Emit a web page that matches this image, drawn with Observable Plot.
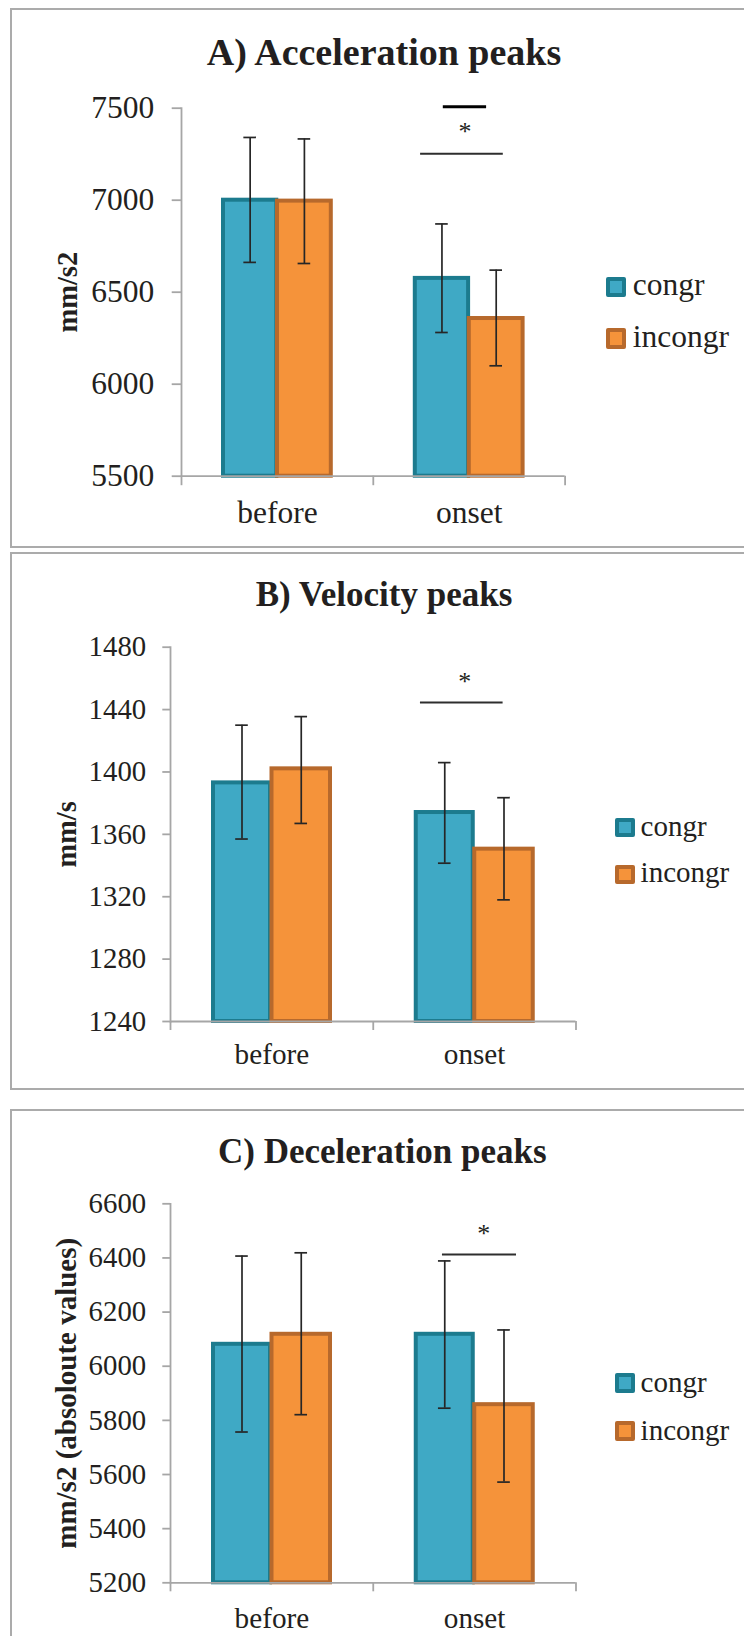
<!DOCTYPE html>
<html>
<head>
<meta charset="utf-8">
<script src="https://cdn.jsdelivr.net/npm/d3@7"></script>
<script src="https://cdn.jsdelivr.net/npm/@observablehq/plot@0.6"></script>
<style>
html, body { margin: 0; padding: 0; background: #fff; }
body { width: 744px; height: 1636px; position: relative; overflow: hidden;
  font-family: "Liberation Serif", "Times New Roman", serif; color: #231f20; }
.panel { position: absolute; left: 10px; width: 800px; border: 2px solid #ababab; box-sizing: border-box; }
.title { position: absolute; text-align: center; font-weight: bold; line-height: 1; white-space: nowrap; }
.leg { position: absolute; line-height: 1; white-space: nowrap; }
.sw { position: absolute; box-sizing: border-box; border-style: solid; border-radius: 2px; }
</style>
</head>
<body>
<script>
// ---------- data ----------
const categories = ["before", "onset"];
const conditions = ["congr", "incongr"];
const titles = ["A) Acceleration peaks", "B) Velocity peaks", "C) Deceleration peaks"];
const yLabels = ["mm/s2", "mm/s", "mm/s2 (absoloute values)"];

// A) Acceleration peaks
const accelTicks = [5500, 6000, 6500, 7000, 7500];
const accelCongr = [7000, 6575];
const accelCongrLow = [6662, 6281];
const accelCongrHigh = [7341, 6871];
const accelIncongr = [6995, 6357];
const accelIncongrLow = [6656, 6100];
const accelIncongrHigh = [7333, 6620];
const accelSigLine = [7252];
const accelStar = [7397];
const accelTopBar = [7508];

// B) Velocity peaks
const velTicks = [1240, 1280, 1320, 1360, 1400, 1440, 1480];
const velCongr = [1393, 1374];
const velCongrLow = [1357, 1341.5];
const velCongrHigh = [1430, 1406];
const velIncongr = [1402, 1350.5];
const velIncongrLow = [1367, 1318];
const velIncongrHigh = [1435.5, 1383.5];
const velSigLine = [1444.5];
const velStar = [1461];

// C) Deceleration peaks
const decelTicks = [5200, 5400, 5600, 5800, 6000, 6200, 6400, 6600];
const decelCongr = [6081, 6118];
const decelCongrLow = [5757, 5845];
const decelCongrHigh = [6407, 6389];
const decelIncongr = [6118, 5858];
const decelIncongrLow = [5821, 5572];
const decelIncongrHigh = [6419, 6134];
const decelSigLine = [6413];
const decelStar = [6508];

// ---------- styles ----------
const TEXT = "#231f20";
const AXIS = "#a6a6a6";
const ERR = "#262626";
const FILL = {congr: "#3fa9c5", incongr: "#f5933a"};
const EDGE = {congr: "#1c7b8e", incongr: "#b7692c"};
const FONT = "'Liberation Serif', 'Times New Roman', serif";

const panels = [
  {
    data: {ticks: accelTicks, congr: accelCongr, congrLow: accelCongrLow, congrHigh: accelCongrHigh,
      incongr: accelIncongr, incongrLow: accelIncongrLow, incongrHigh: accelIncongrHigh,
      sig: accelSigLine, star: accelStar, topBar: accelTopBar},
    title: titles[0], yLabel: yLabels[0],
    L: {box: [8, 540], top: 60, height: 480, ml: 181, mr: 179.4, mt: 47.7, mb: 64.3,
      bars: {congr: [42, 95.3], incongr: [96, 149.8]}, cap: 6.3,
      tickY: 9.3, padY: 18, tickFont: 31.5, xFont: 31.5, padX: 24.6, xTick: 9.5,
      yLabelX: 67, yLabelFont: 28.5,
      sigInset: [47.3, 61.8], starDx: -4.3, starFont: 26, topBarInset: [70, 78.5],
      titleFont: 38, titleTop: 32.5, titleCenter: 384,
      legFont: 31.5, legSw: 20.5, legSwX: 605.7, legSwTop: [276.7, 328], legTextX: 632.7, legBase: [295, 347.3]}
  },
  {
    data: {ticks: velTicks, congr: velCongr, congrLow: velCongrLow, congrHigh: velCongrHigh,
      incongr: velIncongr, incongrLow: velIncongrLow, incongrHigh: velIncongrHigh,
      sig: velSigLine, star: velStar, topBar: []},
    title: titles[1], yLabel: yLabels[1],
    L: {box: [552, 538], top: 600, height: 480, ml: 170, mr: 168.5, mt: 46.7, mb: 59,
      bars: {congr: [43, 100], incongr: [101.5, 160]}, cap: 6.3,
      tickY: 7.7, padY: 16.6, tickFont: 28.8, xFont: 29.2, padX: 21.6, xTick: 9,
      yLabelX: 66, yLabelFont: 28.4,
      sigInset: [47.2, 72.9], starDx: -9.9, starFont: 26, topBarInset: [0, 0],
      titleFont: 35, titleTop: 577.1, titleCenter: 384,
      legFont: 29, legSw: 19.5, legSwX: 615.4, legSwTop: [817.5, 864.5], legTextX: 640.6, legBase: [836, 882.7]}
  },
  {
    data: {ticks: decelTicks, congr: decelCongr, congrLow: decelCongrLow, congrHigh: decelCongrHigh,
      incongr: decelIncongr, incongrLow: decelIncongrLow, incongrHigh: decelIncongrHigh,
      sig: decelSigLine, star: decelStar, topBar: []},
    title: titles[2], yLabel: yLabels[2],
    L: {box: [1109, 600], top: 1150, height: 486, ml: 170, mr: 168.5, mt: 53.3, mb: 53.7,
      bars: {congr: [43, 100], incongr: [101.5, 160]}, cap: 6.3,
      tickY: 7.7, padY: 16.6, tickFont: 28.8, xFont: 29.2, padX: 24.9, xTick: 9,
      yLabelX: 66, yLabelFont: 29,
      sigInset: [69.2, 59.5], starDx: 9.1, starFont: 26, topBarInset: [0, 0],
      titleFont: 35, titleTop: 1134, titleCenter: 382.3,
      legFont: 29, legSw: 19.5, legSwX: 615, legSwTop: [1373, 1421], legTextX: 640.6, legBase: [1392, 1440]}
  }
];

function makeChart(p) {
  const d = p.data, L = p.L;
  const W = 744;
  const bw = (W - L.ml - L.mr) / categories.length;
  const rows = [];
  categories.forEach((c, i) => {
    rows.push({category: c, condition: "congr", value: d.congr[i], lo: d.congrLow[i], hi: d.congrHigh[i]});
    rows.push({category: c, condition: "incongr", value: d.incongr[i], lo: d.incongrLow[i], hi: d.incongrHigh[i]});
  });
  const ymin = d.ticks[0], ymax = d.ticks[d.ticks.length - 1];
  const marks = [];

  // bars
  for (const cond of conditions) {
    const [a, b] = L.bars[cond];
    const sub = rows.filter(r => r.condition === cond);
    marks.push(Plot.barY(sub, {x: "category", y1: ymin, y2: "value",
      fill: FILL[cond], stroke: EDGE[cond], strokeWidth: 4,
      insetLeft: a, insetRight: bw - b}));
  }

  // axes
  marks.push(Plot.frame({anchor: "left", stroke: AXIS, strokeWidth: 1.8}));
  marks.push(Plot.ruleY([ymin], {stroke: AXIS, strokeWidth: 1.8}));
  marks.push(Plot.axisY({ticks: d.ticks, tickSize: L.tickY, tickPadding: L.padY,
    fontSize: L.tickFont, tickFormat: v => String(v), stroke: AXIS, strokeWidth: 1.8,
    fill: TEXT, label: null}));
  marks.push(Plot.axisX({tickSize: 0, tickPadding: L.padX, fontSize: L.xFont, fill: TEXT, label: null}));
  marks.push(Plot.axisX({tickSize: L.xTick, tickFormat: () => "", dx: -bw / 2,
    stroke: AXIS, strokeWidth: 1.8, label: null}));
  marks.push(Plot.axisX({ticks: [categories[categories.length - 1]], tickSize: L.xTick,
    tickFormat: () => "", dx: bw / 2, stroke: AXIS, strokeWidth: 1.8, label: null}));

  // error bars
  for (const cond of conditions) {
    const [a, b] = L.bars[cond];
    const mid = (a + b) / 2;
    const sub = rows.filter(r => r.condition === cond);
    marks.push(Plot.ruleX(sub, {x: "category", y1: "lo", y2: "hi", dx: mid - bw / 2,
      stroke: ERR, strokeWidth: 1.7}));
    for (const k of ["lo", "hi"]) {
      marks.push(Plot.tickY(sub, {x: "category", y: k,
        insetLeft: mid - L.cap, insetRight: bw - mid - L.cap, stroke: ERR, strokeWidth: 1.7}));
    }
  }

  // significance annotation (onset)
  const last = categories[categories.length - 1];
  const sigRows = d.sig.map(v => ({category: last, y: v}));
  marks.push(Plot.ruleY(sigRows, {x1: "category", x2: "category", y: "y",
    insetLeft: L.sigInset[0], insetRight: L.sigInset[1], stroke: "#2e2e2e", strokeWidth: 2}));
  const starRows = d.star.map(v => ({category: last, y: v}));
  marks.push(Plot.text(starRows, {x: "category", y: "y", text: () => "*",
    dx: L.starDx, dy: 5, fontSize: L.starFont, fill: TEXT}));
  const topRows = d.topBar.map(v => ({category: last, y: v}));
  marks.push(Plot.ruleY(topRows, {x1: "category", x2: "category", y: "y",
    insetLeft: L.topBarInset[0], insetRight: L.topBarInset[1], stroke: "#000", strokeWidth: 3}));

  // y label
  marks.push(Plot.text([p.yLabel], {frameAnchor: "left", textAnchor: "middle", text: t => t, rotate: -90,
    dx: L.yLabelX - L.ml, fontSize: L.yLabelFont, fontWeight: "bold", fill: TEXT}));

  const svg = Plot.plot({
    width: W, height: L.height,
    marginLeft: L.ml, marginRight: L.mr, marginTop: L.mt, marginBottom: L.mb,
    x: {type: "band", domain: categories, padding: 0, round: false},
    y: {domain: [ymin, ymax]},
    style: {fontFamily: FONT, color: TEXT, background: "transparent", overflow: "visible"},
    marks
  });
  svg.style.position = "absolute";
  svg.style.left = "0px";
  svg.style.top = L.top + "px";
  return svg;
}

for (const p of panels) {
  const L = p.L;
  const box = document.createElement("div");
  box.className = "panel";
  box.style.top = L.box[0] + "px";
  box.style.height = L.box[1] + "px";
  document.body.appendChild(box);

  const t = document.createElement("div");
  t.className = "title";
  t.textContent = p.title;
  t.style.fontSize = L.titleFont + "px";
  t.style.top = L.titleTop + "px";
  t.style.left = (L.titleCenter - 300) + "px";
  t.style.width = "600px";
  document.body.appendChild(t);

  document.body.appendChild(makeChart(p));

  conditions.forEach((cond, i) => {
    const sw = document.createElement("div");
    sw.className = "sw";
    sw.style.left = L.legSwX + "px";
    sw.style.top = L.legSwTop[i] + "px";
    sw.style.width = L.legSw + "px";
    sw.style.height = L.legSw + "px";
    sw.style.borderWidth = "4px";
    sw.style.borderColor = EDGE[cond];
    sw.style.background = FILL[cond];
    document.body.appendChild(sw);
    const tx = document.createElement("div");
    tx.className = "leg";
    tx.textContent = cond;
    tx.style.fontSize = L.legFont + "px";
    tx.style.left = L.legTextX + "px";
    tx.style.top = (L.legBase[i] - 0.8375 * L.legFont) + "px";
    document.body.appendChild(tx);
  });
}
</script>
</body>
</html>
